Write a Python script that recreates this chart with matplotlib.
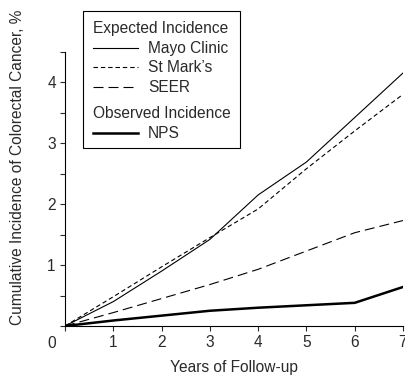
import matplotlib
matplotlib.use("Agg")
import matplotlib.pyplot as plt
from matplotlib.patches import Rectangle
from matplotlib.lines import Line2D

plt.rcParams["font.family"] = ["Liberation Sans", "DejaVu Sans"]

# data
years = [0, 1, 2, 3, 4, 5, 6, 7]
mayo = [0, 0.40, 0.90, 1.42, 2.15, 2.69, 3.42, 4.15]
st_marks = [0, 0.48, 0.97, 1.45, 1.92, 2.58, 3.20, 3.80]
seer = [0, 0.22, 0.45, 0.68, 0.93, 1.23, 1.53, 1.73]
nps = [0, 0.09, 0.17, 0.25, 0.30, 0.34, 0.38, 0.64]

W, H = 406, 377
TXT = "#2a2a2a"
FS = 11.2
SHORT = (4, 2.6)
LONG = (9, 4.5)

fig = plt.figure(figsize=(W / 100, H / 100), dpi=100)
ax = fig.add_axes([65 / W, 1 - 326 / H, (403 - 65) / W, (326 - 9) / H])

ax.plot(years, mayo, color="black", lw=0.8)
ax.plot(years, st_marks, color="black", lw=0.8, dashes=SHORT)
ax.plot(years, seer, color="black", lw=0.8, dashes=LONG)
ax.plot(years, nps, color="black", lw=1.8)

ax.set_xlim(0, 7)
ax.set_ylim(0, 5.2)
ax.spines["top"].set_visible(False)
ax.spines["right"].set_visible(False)
ax.spines["left"].set_bounds(0, 4.5)
ax.spines["left"].set_linewidth(0.8)
ax.spines["bottom"].set_linewidth(0.8)

ax.set_xticks(years)
ax.set_xticklabels([""] + [str(y) for y in years[1:]])
ax.set_yticks([0, 0.5, 1, 1.5, 2, 2.5, 3, 3.5, 4, 4.5])
ax.set_yticklabels(["", "", "1", "", "2", "", "3", "", "4", ""])
ax.tick_params(direction="out", length=3.6, width=0.8, labelsize=FS,
               colors=TXT, pad=3)
ax.text(-0.28, -0.28, "0", fontsize=FS, color=TXT, ha="center", va="center")

ax.set_xlabel("Years of Follow-up", fontsize=FS, color=TXT, labelpad=7)
fig.text(18 / W, 1 - 167 / H, "Cumulative Incidence of Colorectal Cancer, %",
         rotation=90, fontsize=FS, color=TXT, ha="center", va="center")

# legend drawn by hand (two headed groups)
def fx(px):
    return px / W

def fy(py):
    return 1 - py / H

fig.patches.append(Rectangle((fx(83), fy(148)), fx(240) - fx(83), fy(11) - fy(148),
                             transform=fig.transFigure, fill=False,
                             edgecolor="black", lw=0.8))
rows = [
    ("Expected Incidence", None, 29),
    ("Mayo Clinic", dict(lw=0.8), 48),
    ("St Mark\u2019s", dict(lw=0.8, dashes=SHORT), 67),
    ("SEER", dict(lw=0.8, dashes=LONG), 87),
    ("Observed Incidence", None, 113),
    ("NPS", dict(lw=1.8), 133),
]
for label, style, py in rows:
    if style is None:
        fig.text(fx(93), fy(py), label, fontsize=FS, color=TXT, va="center")
    else:
        fig.lines.append(Line2D([fx(93), fx(138)], [fy(py), fy(py)],
                                transform=fig.transFigure, color="black", **style))
        fig.text(fx(148), fy(py), label, fontsize=FS, color=TXT, va="center")

fig.savefig("out.png", dpi=100)
